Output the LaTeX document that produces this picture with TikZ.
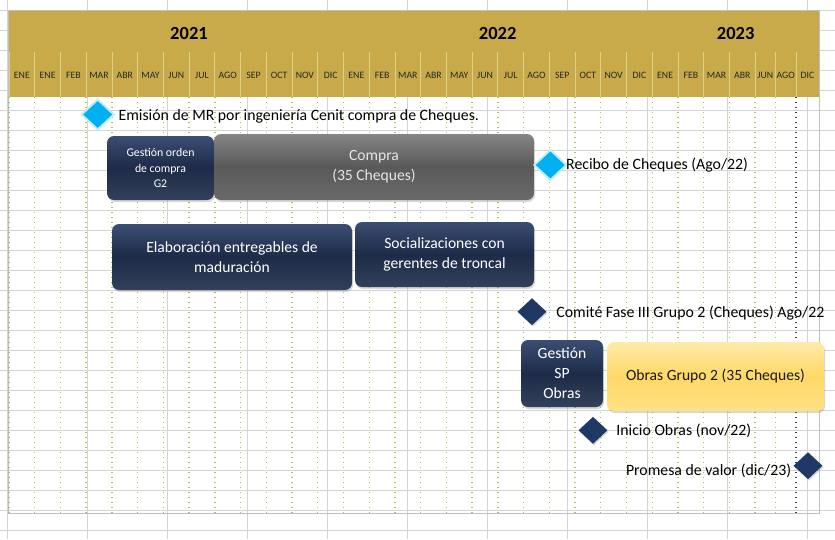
\documentclass[tikz,border=0pt]{standalone}
\usepackage{fontspec}
\setmainfont{Carlito}
\usetikzlibrary{positioning,shapes.geometric,shadows}
\definecolor{oro}{HTML}{C9AA4A}
\definecolor{orosep}{HTML}{DCD283}
\definecolor{verdep}{HTML}{9CCB5C}
\definecolor{marino}{HTML}{1D2B48}
\definecolor{marinoclaro}{HTML}{3B4D72}
\definecolor{rombo}{HTML}{1F3864}
\definecolor{celeste}{HTML}{00B0F0}
\definecolor{gris}{HTML}{595959}
\definecolor{grisclaro}{HTML}{858585}
\definecolor{amarillo}{HTML}{FFD966}
\definecolor{amarilloclaro}{HTML}{FFEBA8}
\definecolor{rejilla}{HTML}{D4D4D4}
\begin{document}
\begin{tikzpicture}[x=1pt,y=-1pt,
	caja/.style={rectangle,rounded corners=7pt,align=center,inner sep=2pt,font=\fontsize{15.6}{20}\selectfont,
		drop shadow={shadow xshift=1pt,shadow yshift=-2pt,opacity=.3}},
	cajaazul/.style={caja,top color=marinoclaro,bottom color=marino!90!white,middle color=marino,text=white},
	cajagris/.style={caja,top color=grisclaro,bottom color=gris!90!white,middle color=gris,text=white!90!black},
	cajaamarilla/.style={caja,top color=amarilloclaro,bottom color=amarillo!80!white,middle color=amarillo,text=black!90},
	hito/.style={diamond,minimum width=29pt,minimum height=27pt,inner sep=0pt},
	hitoazul/.style={hito,fill=rombo,drop shadow={shadow xshift=1pt,shadow yshift=-1.5pt,opacity=.3}},
	hitoceleste/.style={hito,fill=celeste,preaction={draw=celeste!25,line width=4pt}},
	hitotexto/.style={font=\fontsize{15.8}{18}\selectfont,inner sep=1pt},
	mes/.style={font=\fontsize{9.8}{11}\selectfont,inner sep=0pt,text=black!85},
	anio/.style={font=\bfseries\fontsize{18.5}{20}\selectfont,inner sep=0pt},
	punteo/.style={line width=1.4pt,dash pattern=on 1.4pt off 3.6pt}]
	\useasboundingbox (0,0) rectangle (835,539);
	\fill [white] (0,0) rectangle (835,539);
	\foreach \y in {10,30,...,530} \draw [rejilla] (0,\y) -- (835,\y);
	\foreach \x in {7.3,87.3,...,807.3} \draw [rejilla] (\x,0) -- (\x,539);
	\fill [oro] (8,10) rectangle (819,97);
	\draw [gray!50] (8,10) rectangle (819,513);
	\foreach \i in {0,...,29} {
		\draw [orosep,line width=0.8pt] ({9+25.73*\i},52) -- ({9+25.73*\i},97);
		\draw [verdep,punteo] ({9+25.73*\i},97) -- ({9+25.73*\i},513);
	}
	\draw [orosep,line width=0.8pt] (775.3,52) -- (775.3,97);
	\draw [orosep,line width=0.8pt] (796,52) -- (796,97);
	\draw [verdep,punteo] (775.3,97) -- (775.3,513);
	\draw [black!75,punteo] (796,97) -- (796,513);
	\node [anio] (a2021) at (189,33) {2021};
	\node [anio] (a2022) at (497.7,33) {2022};
	\node [anio] (a2023) at (735.7,33) {2023};
	\foreach \m [count=\i from 0] in {ENE,ENE,FEB,MAR,ABR,MAY,JUN,JUL,AGO,SEP,OCT,NOV,DIC,ENE,FEB,MAR,ABR,MAY,JUN,JUL,AGO,SEP,OCT,NOV,DIC,ENE,FEB,MAR,ABR}
		\node [mes] (mes\i) at ({9+25.73*(\i+0.5)},75) {\m};
	\node [mes] (mes29) at (765.3,75) {JUN};
	\node [mes] (mes30) at (785.7,75) {AGO};
	\node [mes] (mes31) at (807.5,75) {DIC};
	\node [cajagris,minimum width=320pt,minimum height=66pt] (compra) at (374,167) {Compra\\(35 Cheques)};
	\node [cajaazul,minimum width=107pt,minimum height=64pt,font=\fontsize{11.8}{15.5}\selectfont] (gestion) at (160.5,168) {Gestión orden\\de compra\\G2};
	\node [cajaazul,minimum width=240pt,minimum height=66pt] (elaboracion) at (232,257) {Elaboración entregables de\\maduración};
	\node [cajaazul,minimum width=179pt,minimum height=65pt] (socializacion) at (444.5,254.5) {Socializaciones con\\gerentes de troncal};
	\node [cajaazul,minimum width=82pt,minimum height=67pt] (gestionsp) at (562,373.5) {Gestión\\SP\\Obras};
	\node [cajaamarilla,minimum width=217pt,minimum height=69pt] (obras) at (715.5,376.5) {Obras Grupo 2 (35 Cheques)};
	\node [hitoceleste] (emision) at (97.7,114.5) {};
	\node [hitotexto,right=5pt of emision,yshift=-2pt] (emisiontxt) {Emisión de MR por ingeniería Cenit compra de Cheques.};
	\node [hitoceleste] (recibo) at (550.3,165) {};
	\node [hitotexto,right=0pt of recibo] (recibotxt) {Recibo de Cheques (Ago/22)};
	\node [hitoazul] (comite) at (532,311.7) {};
	\node [hitotexto,right=8.5pt of comite,yshift=-1.5pt] (comitetxt) {Comité Fase III Grupo 2 (Cheques) Ago/22};
	\node [hitoazul] (inicio) at (593,430.3) {};
	\node [hitotexto,right=7.5pt of inicio,yshift=-1pt] (iniciotxt) {Inicio Obras (nov/22)};
	\node [hitoazul] (promesa) at (808,465.7) {};
	\node [hitotexto,left=1pt of promesa,yshift=-5pt] (promesatxt) {Promesa de valor (dic/23)};
\end{tikzpicture}
\end{document}
